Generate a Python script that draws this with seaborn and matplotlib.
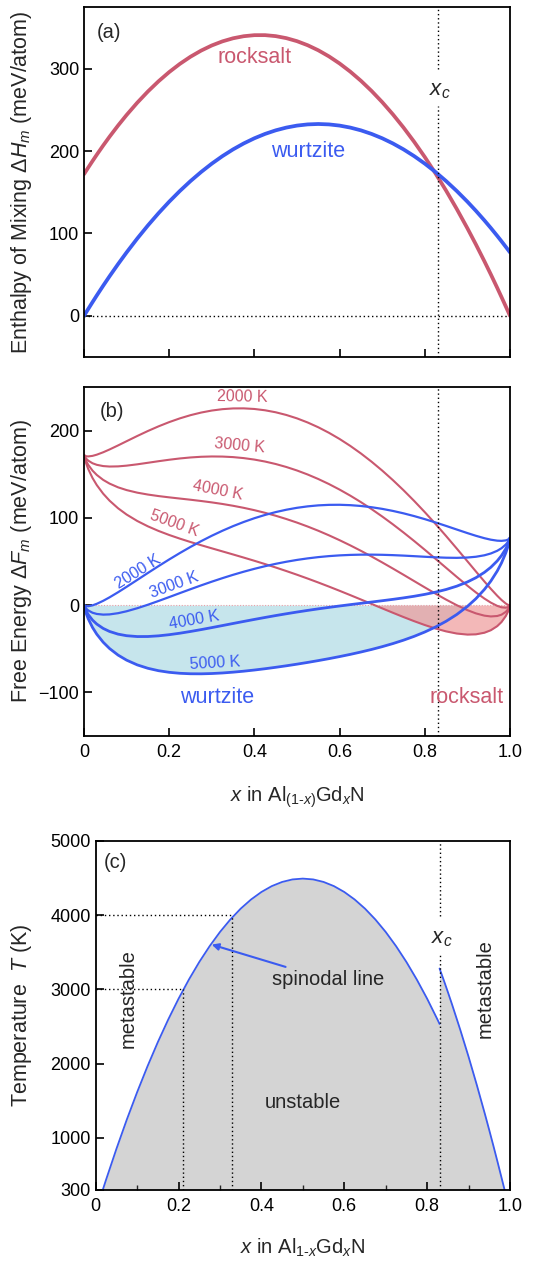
import numpy as np
import pandas as pd
import matplotlib
matplotlib.use("Agg")
import matplotlib.pyplot as plt
import seaborn as sns

# ---------------- data ----------------
x_grid = [0, 0.005, 0.01, 0.02, 0.03, 0.045, 0.06, 0.08, 0.1, 0.125, 0.15, 0.175, 0.2,
          0.225, 0.25, 0.275, 0.3, 0.325, 0.35, 0.375, 0.4, 0.425, 0.45, 0.475, 0.5,
          0.525, 0.55, 0.575, 0.6, 0.625, 0.65, 0.675, 0.7, 0.725, 0.75, 0.775, 0.8,
          0.825, 0.85, 0.875, 0.9, 0.92, 0.94, 0.955, 0.97, 0.98, 0.99, 0.995, 1.0]

# (a) enthalpy of mixing (meV/atom)
H_wurtzite = [0, 4.22, 8.39, 16.63, 24.72, 36.56, 48.05, 62.83, 77.0, 93.84, 109.73, 124.64, 138.6,
              151.59, 163.63, 174.69, 184.8, 193.94, 202.13, 209.34, 215.6, 220.89, 225.23, 228.59, 231.0,
              232.44, 232.93, 232.44, 231.0, 228.59, 225.23, 220.89, 215.6, 209.34, 202.13, 193.94, 184.8,
              174.69, 163.63, 151.59, 138.6, 127.51, 115.81, 106.63, 97.10, 90.55, 83.85, 80.45, 77.0]
H_rocksalt = [172, 176.07, 180.08, 187.96, 195.65, 206.81, 217.52, 231.10, 243.9, 258.78, 272.43, 284.83, 296.0,
              305.93, 314.63, 322.08, 328.3, 333.28, 337.03, 339.53, 340.8, 340.83, 339.63, 337.18, 333.5,
              328.58, 322.43, 315.03, 306.4, 296.53, 285.43, 273.08, 259.5, 244.68, 228.63, 211.33, 192.8,
              173.03, 152.03, 129.78, 106.3, 86.62, 66.16, 50.29, 33.97, 22.84, 11.52, 5.79, 0]

# (b) free energy (meV/atom)
temps = ["2000 K", "3000 K", "4000 K", "5000 K"]
F_wurtzite = {
    "2000 K": [0, -1.21, -1.26, -0.27, 1.50, 4.93, 8.93, 14.78, 20.97, 28.90, 36.88, 44.72, 52.36,
               59.70, 66.71, 73.32, 79.52, 85.26, 90.54, 95.32, 99.61, 103.37, 106.63, 109.34, 111.54,
               113.19, 114.33, 114.92, 115.01, 114.57, 113.64, 112.21, 110.32, 107.97, 105.21, 102.05, 98.56,
               94.77, 90.78, 86.65, 82.57, 79.46, 76.69, 75.00, 73.88, 73.65, 74.20, 75.02, 77.0],
    "3000 K": [0, -3.92, -6.09, -8.72, -10.11, -10.88, -10.63, -9.24, -7.04, -3.56, 0.45, 4.76, 9.23,
               13.76, 18.25, 22.64, 26.88, 30.92, 34.75, 38.31, 41.61, 44.62, 47.33, 49.72, 51.81,
               53.57, 55.03, 56.17, 57.01, 57.56, 57.85, 57.87, 57.68, 57.29, 56.75, 56.11, 55.43,
               54.81, 54.35, 54.19, 54.56, 55.44, 57.13, 59.19, 62.27, 65.20, 69.37, 72.31, 77.0],
    "4000 K": [0, -6.63, -10.91, -17.16, -21.72, -26.70, -30.18, -33.26, -35.05, -36.03, -35.97, -35.20, -33.88,
               -32.19, -30.20, -28.05, -25.76, -23.41, -21.04, -18.69, -16.38, -14.14, -11.96, -9.90, -7.92,
               -6.05, -4.26, -2.59, -0.98, 0.56, 2.06, 3.54, 5.04, 6.60, 8.30, 10.16, 12.32,
               14.85, 17.93, 21.72, 26.55, 31.42, 37.58, 43.37, 50.66, 56.76, 64.55, 69.60, 77.0],
    "5000 K": [0, -9.34, -15.74, -25.61, -33.34, -42.51, -49.74, -57.28, -63.07, -68.50, -72.40, -75.17, -77.01,
               -78.13, -78.67, -78.73, -78.40, -77.76, -76.84, -75.71, -74.38, -72.90, -71.27, -69.53, -67.66,
               -65.68, -63.57, -61.35, -58.98, -56.46, -53.74, -50.81, -47.60, -44.08, -40.17, -35.78, -30.81,
               -25.12, -18.50, -10.75, -1.47, 7.40, 18.02, 27.56, 39.04, 48.31, 59.72, 66.89, 77.0],
}
F_rocksalt = {
    "2000 K": [172, 170.64, 170.43, 171.06, 172.43, 175.18, 178.40, 183.05, 187.87, 193.84, 199.58, 204.91, 209.76,
               214.04, 217.71, 220.71, 223.02, 224.60, 225.44, 225.51, 224.81, 223.31, 221.03, 217.93, 214.04,
               209.33, 203.83, 197.51, 190.41, 182.51, 173.84, 164.40, 154.22, 143.31, 131.71, 119.44, 106.56,
               93.11, 79.18, 64.84, 50.27, 38.57, 27.04, 18.66, 10.75, 5.94, 1.87, 0.36, 0],
    "3000 K": [172, 167.93, 165.60, 162.61, 160.82, 159.37, 158.84, 159.03, 159.86, 161.38, 163.15, 164.95, 166.63,
               168.10, 169.25, 170.03, 170.38, 170.26, 169.65, 168.50, 166.81, 164.56, 161.73, 158.31, 154.31,
               149.71, 144.53, 138.76, 132.41, 125.50, 118.05, 110.06, 101.58, 92.63, 83.25, 73.50, 63.43,
               53.15, 42.75, 32.38, 22.26, 14.55, 7.48, 2.85, -0.86, -2.51, -2.96, -2.35, 0],
    "4000 K": [172, 165.22, 160.78, 154.17, 149.21, 143.55, 139.29, 135.01, 131.85, 128.91, 126.73, 124.99, 123.52,
               122.15, 120.80, 119.34, 117.74, 115.93, 113.86, 111.50, 108.82, 105.80, 102.44, 98.69, 94.58,
               90.09, 85.24, 80.00, 74.42, 68.50, 62.26, 55.73, 48.94, 41.94, 34.80, 27.55, 20.32,
               13.19, 6.33, -0.09, -5.75, -9.47, -12.07, -12.97, -12.47, -10.95, -7.78, -5.06, 0],
    "5000 K": [172, 162.51, 155.95, 145.72, 137.59, 127.74, 119.73, 110.99, 103.83, 96.44, 90.30, 85.02, 80.39,
               76.21, 72.33, 68.66, 65.10, 61.58, 58.06, 54.48, 50.82, 47.04, 43.13, 39.06, 34.84,
               30.46, 25.93, 21.24, 16.42, 11.48, 6.46, 1.38, -3.70, -8.74, -13.67, -18.39, -22.81,
               -26.78, -30.10, -32.56, -33.77, -33.49, -31.63, -28.78, -24.09, -19.40, -12.61, -7.77, 0],
}

# (c) spinodal lines (K)
x_sp_wurtzite = [0.017, 0.025, 0.05, 0.075, 0.1, 0.125, 0.15, 0.175, 0.2, 0.225, 0.25, 0.275, 0.3,
                 0.325, 0.35, 0.375, 0.4, 0.425, 0.45, 0.475, 0.5, 0.525, 0.55, 0.575, 0.6,
                 0.625, 0.65, 0.675, 0.7, 0.725, 0.75, 0.775, 0.8, 0.825, 0.83]
T_sp_wurtzite = [300, 438, 853, 1246, 1616, 1964, 2290, 2593, 2874, 3132, 3368, 3581, 3772,
                 3940, 4086, 4209, 4310, 4389, 4445, 4479, 4490, 4479, 4445, 4389, 4310,
                 4209, 4086, 3940, 3772, 3581, 3368, 3132, 2874, 2593, 2534]
x_sp_rocksalt = [0.83, 0.84, 0.85, 0.86, 0.88, 0.9, 0.92, 0.94, 0.95, 0.96, 0.97, 0.98, 0.987]
T_sp_rocksalt = [3280, 3125, 2964, 2799, 2455, 2093, 1711, 1311, 1104, 893, 677, 456, 300]

x_c = 0.83
guide_T = [3000, 4000]
guide_x = [0.21, 0.33]

x_ticks = [0, 0.2, 0.4, 0.6, 0.8, 1.0]
x_ticklabels = ["0", "0.2", "0.4", "0.6", "0.8", "1.0"]

# ---------------- style ----------------
sns.set_theme(style="ticks")
plt.rcParams["font.family"] = ["Liberation Sans", "DejaVu Sans"]
plt.rcParams["mathtext.fontset"] = "custom"
plt.rcParams["mathtext.rm"] = "Liberation Sans"
plt.rcParams["mathtext.it"] = "Liberation Sans:italic"
plt.rcParams["mathtext.bf"] = "Liberation Sans:bold"
plt.rcParams["axes.linewidth"] = 1.3
plt.rcParams["axes.edgecolor"] = "black"
plt.rcParams["lines.solid_joinstyle"] = "round"

RED = "#c9586f"
BLUE = "#3b5bf0"
TICK_FS = 13
LAB_FS = 15.5

fig = plt.figure(figsize=(5.39, 12.62), dpi=100)
axA = fig.add_axes([84/539, 1-357/1262, 426/539, 350/1262])
axB = fig.add_axes([84/539, 1-736/1262, 426/539, 349/1262])
axC = fig.add_axes([95.7/539, 1-1190/1262, 414.3/539, 349.3/1262])

def style_ax(ax):
    for s in ax.spines.values():
        s.set_visible(True)
        s.set_linewidth(1.3)
        s.set_color("black")
    ax.tick_params(direction="in", length=6, width=1.2, labelsize=TICK_FS,
                   colors="black", top=False, right=False)

dot = dict(color="black", lw=1.0, ls=(0, (1, 2)))

# ---------------- (a) ----------------
dfA = pd.DataFrame({"x": x_grid, "wurtzite": H_wurtzite, "rocksalt": H_rocksalt})
sns.lineplot(data=dfA, x="x", y="rocksalt", ax=axA, color=RED, lw=2.7)
sns.lineplot(data=dfA, x="x", y="wurtzite", ax=axA, color=BLUE, lw=2.7)
axA.axhline(0, zorder=0, **dot)
axA.plot([x_c, x_c], [300, 375], **dot)
axA.plot([x_c, x_c], [-50, 255], **dot)
axA.set_xlim(0, 1)
axA.set_ylim(-50, 375)
axA.set_xticks(x_ticks)
axA.set_xticklabels([])
axA.set_yticks([0, 100, 200, 300])
axA.set_xlabel("")
axA.set_ylabel(r"Enthalpy of Mixing $\Delta H_m$ (meV/atom)", fontsize=LAB_FS)
axA.yaxis.set_label_coords(-0.118, 0.5)
style_ax(axA)
axA.text(0.058, 344, "(a)", fontsize=14.5, ha="center", va="center")
axA.text(0.40, 314, "rocksalt", color=RED, fontsize=15.5, ha="center", va="center")
axA.text(0.527, 200, "wurtzite", color=BLUE, fontsize=15.5, ha="center", va="center")
axA.text(0.835, 274, r"$x_c$", fontsize=16, ha="center", va="center")

# ---------------- (b) ----------------
recs = []
for t in temps:
    for xi, fw, fr in zip(x_grid, F_wurtzite[t], F_rocksalt[t]):
        recs.append({"x": xi, "T": t, "wurtzite": fw, "rocksalt": fr})
dfB = pd.DataFrame(recs)
d5 = dfB[dfB["T"] == "5000 K"]
axB.fill_between(d5["x"], 0, d5["wurtzite"], where=d5["wurtzite"] <= 0.5,
                 color="#c6e5ec", lw=0, interpolate=True, zorder=0)
axB.fill_between(d5["x"], 0, d5["rocksalt"], where=d5["rocksalt"] <= 0.5,
                 color="#ee9a9a", alpha=0.7, lw=0, interpolate=True, zorder=0.5)
axB.axhline(0, color="#e8a0a8", lw=0.8, ls=(0, (1, 1.5)), zorder=0.6)
blue_lw = {"2000 K": 1.6, "3000 K": 1.6, "4000 K": 2.0, "5000 K": 2.0}
for t in temps:
    d = dfB[dfB["T"] == t]
    sns.lineplot(data=d, x="x", y="rocksalt", ax=axB, color=RED, lw=1.5)
for t in temps:
    d = dfB[dfB["T"] == t]
    sns.lineplot(data=d, x="x", y="wurtzite", ax=axB, color=BLUE, lw=blue_lw[t])
axB.axvline(x_c, **dot)
axB.set_xlim(0, 1)
axB.set_ylim(-150, 250)
axB.set_xticks(x_ticks)
axB.set_xticklabels(x_ticklabels)
axB.set_yticks([-100, 0, 100, 200])
axB.set_yticklabels(["\u2212100", "0", "100", "200"])
axB.set_ylabel(r"Free Energy $\Delta F_m$ (meV/atom)", fontsize=LAB_FS)
axB.yaxis.set_label_coords(-0.118, 0.5)
axB.set_xlabel(r"$x$ in Al$_{(1\text{-}x)}$Gd$_x$N", fontsize=14.5)
axB.xaxis.set_label_coords(0.5, -0.14)
style_ax(axB)
axB.tick_params(axis="x", pad=6)
axB.text(0.066, 222, "(b)", fontsize=14.5, ha="center", va="center")
red_lab = [(0.371, 239, -1), (0.366, 183, -5), (0.314, 131, -11), (0.211, 94, -20)]
blue_lab = [(0.127, 38, 32), (0.213, 23, 20), (0.259, -17, 10), (0.307, -67, 3)]
for t, (xx, yy, r) in zip(temps, red_lab):
    axB.text(xx, yy, t, color=RED, fontsize=11.5, ha="center", va="center",
             rotation=r, rotation_mode="anchor")
for t, (xx, yy, r) in zip(temps, blue_lab):
    axB.text(xx, yy, t, color=BLUE, fontsize=11.5, ha="center", va="center",
             rotation=r, rotation_mode="anchor")
axB.text(0.313, -106, "wurtzite", color=BLUE, fontsize=15.5, ha="center", va="center")
axB.text(0.897, -106, "rocksalt", color=RED, fontsize=15.5, ha="center", va="center")

# ---------------- (c) ----------------
dfCw = pd.DataFrame({"x": x_sp_wurtzite, "T": T_sp_wurtzite})
dfCr = pd.DataFrame({"x": x_sp_rocksalt, "T": T_sp_rocksalt})
axC.fill_between(dfCw["x"], 300, dfCw["T"], color="#d4d4d4", lw=0, zorder=0)
axC.fill_between(dfCr["x"], 300, dfCr["T"], color="#d4d4d4", lw=0, zorder=0)
sns.lineplot(data=dfCw, x="x", y="T", ax=axC, color=BLUE, lw=1.3)
sns.lineplot(data=dfCr, x="x", y="T", ax=axC, color=BLUE, lw=1.3)
for gx, gT in zip(guide_x, guide_T):
    axC.plot([0, gx], [gT, gT], **dot)
    axC.plot([gx, gx], [300, gT], **dot)
axC.plot([x_c, x_c], [3990, 5000], **dot)
axC.plot([x_c, x_c], [300, 3460], **dot)
axC.set_xlim(0, 1)
axC.set_ylim(300, 5000)
axC.set_xticks(x_ticks)
axC.set_xticklabels(x_ticklabels)
axC.set_xticks([0.1, 0.3, 0.5, 0.7, 0.9], minor=True)
axC.set_yticks([300, 1000, 2000, 3000, 4000, 5000])
axC.set_ylabel(r"Temperature  $T$ (K)", fontsize=LAB_FS)
axC.yaxis.set_label_coords(-0.15, 0.5)
axC.set_xlabel(r"$x$ in Al$_{\mathit{1}\text{-}x}$Gd$_x$N", fontsize=14.5)
axC.xaxis.set_label_coords(0.5, -0.135)
style_ax(axC)
axC.tick_params(axis="x", pad=6)
axC.tick_params(which="minor", direction="in", length=3.5, width=1.0, top=False, right=False)
axC.text(0.047, 4700, "(c)", fontsize=14.5, ha="center", va="center")
axC.text(0.835, 3690, r"$x_c$", fontsize=16, ha="center", va="center")
axC.text(0.079, 2875, "metastable", fontsize=14.5, rotation=90, ha="center", va="center")
axC.text(0.94, 3005, "metastable", fontsize=14.5, rotation=90, ha="center", va="center")
axC.text(0.50, 1480, "unstable", fontsize=14.5, ha="center", va="center")
axC.annotate("spinodal line", xy=(0.28, 3602), xytext=(0.425, 3130),
             fontsize=14.5, ha="left", va="center",
             arrowprops=dict(arrowstyle="-|>", color=BLUE, lw=1.5,
                             mutation_scale=10, shrinkA=0, shrinkB=0))

fig.savefig("out.png", dpi=100)
